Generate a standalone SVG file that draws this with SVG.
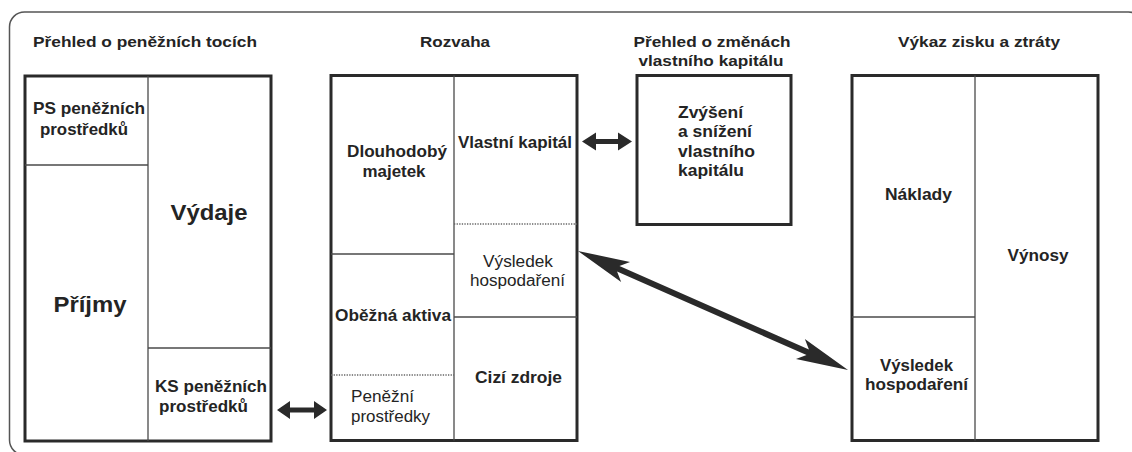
<svg xmlns="http://www.w3.org/2000/svg" width="1132" height="452" viewBox="0 0 1132 452">
<style>
text{font-family:"Liberation Sans",Arial,sans-serif;fill:#242424;}
.t{font-size:15.5px;font-weight:bold;text-anchor:middle;}
.b{font-size:16.5px;font-weight:bold;}
.bc{font-size:16.5px;font-weight:bold;text-anchor:middle;}
.n{font-size:16px;font-weight:normal;}
.nc{font-size:16px;font-weight:normal;text-anchor:middle;}
.big{font-size:22px;font-weight:bold;text-anchor:middle;}
.box{fill:#fff;stroke:#2a2a2a;stroke-width:3;}
.div{stroke:#4a4a4a;stroke-width:1.3;fill:none;}
.dot{stroke:#666;stroke-width:1.3;stroke-dasharray:1.3 1.3;fill:none;}
.arr{fill:#2a2a2a;stroke:none;}
</style>
<rect width="1132" height="452" fill="#fff"/>
<rect x="9.5" y="12" width="1134" height="443" rx="15" ry="15" fill="none" stroke="#555" stroke-width="1.5"/>

<g id="cashflow">
<text class="t" x="145" y="47" textLength="224" lengthAdjust="spacingAndGlyphs">Přehled o peněžních tocích</text>
<rect class="box" x="25" y="76" width="246" height="365"/>
<line class="div" x1="148" y1="76" x2="148" y2="441"/>
<line class="div" x1="25" y1="165" x2="148" y2="165"/>
<line class="div" x1="148" y1="348" x2="271" y2="348"/>
<text class="b" x="33" y="114" textLength="112" lengthAdjust="spacingAndGlyphs">PS peněžních</text>
<text class="b" x="40" y="135" textLength="88" lengthAdjust="spacingAndGlyphs">prostředků</text>
<text class="big" x="209" y="219.5" textLength="77" lengthAdjust="spacingAndGlyphs">Výdaje</text>
<text class="big" x="90" y="312" textLength="73" lengthAdjust="spacingAndGlyphs">Příjmy</text>
<text class="b" x="155" y="392" textLength="112" lengthAdjust="spacingAndGlyphs">KS peněžních</text>
<text class="b" x="159" y="412" textLength="89" lengthAdjust="spacingAndGlyphs">prostředků</text>
</g>

<g id="rozvaha">
<text class="t" x="455" y="47" textLength="70" lengthAdjust="spacingAndGlyphs">Rozvaha</text>
<rect class="box" x="331" y="75.5" width="246" height="365"/>
<line class="div" x1="454" y1="75.5" x2="454" y2="440.5"/>
<line class="div" x1="331" y1="254" x2="454" y2="254"/>
<line class="dot" x1="331" y1="375" x2="454" y2="375"/>
<line class="dot" x1="454" y1="224" x2="577" y2="224"/>
<line class="div" x1="454" y1="317" x2="577" y2="317"/>
<text class="bc" x="397" y="157" textLength="100" lengthAdjust="spacingAndGlyphs">Dlouhodobý</text>
<text class="bc" x="394" y="176.5" textLength="63" lengthAdjust="spacingAndGlyphs">majetek</text>
<text class="bc" x="515" y="148" textLength="114" lengthAdjust="spacingAndGlyphs">Vlastní kapitál</text>
<text class="nc" x="518" y="267" textLength="70" lengthAdjust="spacingAndGlyphs">Výsledek</text>
<text class="nc" x="517.5" y="286" textLength="95" lengthAdjust="spacingAndGlyphs">hospodaření</text>
<text class="bc" x="393" y="321" textLength="116" lengthAdjust="spacingAndGlyphs">Oběžná aktiva</text>
<text class="bc" x="518.5" y="383" textLength="87" lengthAdjust="spacingAndGlyphs">Cizí zdroje</text>
<text class="n" x="351" y="402" textLength="63" lengthAdjust="spacingAndGlyphs">Peněžní</text>
<text class="n" x="351" y="422" textLength="79" lengthAdjust="spacingAndGlyphs">prostředky</text>
</g>

<g id="zmeny">
<text class="t" x="712" y="47" textLength="157" lengthAdjust="spacingAndGlyphs">Přehled o změnách</text>
<text class="t" x="711" y="66" textLength="145" lengthAdjust="spacingAndGlyphs">vlastního kapitálu</text>
<rect class="box" x="637" y="75.5" width="154" height="149"/>
<text class="b" x="678" y="118" textLength="65" lengthAdjust="spacingAndGlyphs">Zvýšení</text>
<text class="b" x="678" y="137" textLength="74" lengthAdjust="spacingAndGlyphs">a snížení</text>
<text class="b" x="678" y="157" textLength="77" lengthAdjust="spacingAndGlyphs">vlastního</text>
<text class="b" x="678" y="176" textLength="66" lengthAdjust="spacingAndGlyphs">kapitálu</text>
</g>

<g id="vzz">
<text class="t" x="979" y="47" textLength="162" lengthAdjust="spacingAndGlyphs">Výkaz zisku a ztráty</text>
<rect class="box" x="852" y="75.5" width="246" height="365"/>
<line class="div" x1="975" y1="75.5" x2="975" y2="440.5"/>
<line class="div" x1="852" y1="317" x2="975" y2="317"/>
<text class="bc" x="918.5" y="200" textLength="67" lengthAdjust="spacingAndGlyphs">Náklady</text>
<text class="bc" x="1038" y="260.5" textLength="61" lengthAdjust="spacingAndGlyphs">Výnosy</text>
<text class="bc" x="916.5" y="371" textLength="73" lengthAdjust="spacingAndGlyphs">Výsledek</text>
<text class="bc" x="916.5" y="390" textLength="103" lengthAdjust="spacingAndGlyphs">hospodaření</text>
</g>

<g id="connectors">
<polygon class="arr" points="277,410 290,401 290,407.5 314,407.5 314,401 327,410 314,419 314,412.5 290,412.5 290,419"/>
<polygon class="arr" points="582,141.5 596,132.5 596,139 618,139 618,132.5 632,141.5 618,150.5 618,144 596,144 596,150.5"/>
<polygon class="arr" points="578,251 621.15,282.04 617.05,271.5 806.53,355 795.97,359.1 848,370 804.85,338.96 808.95,349.5 619.47,266 630.03,261.9"/>
</g>
</svg>
